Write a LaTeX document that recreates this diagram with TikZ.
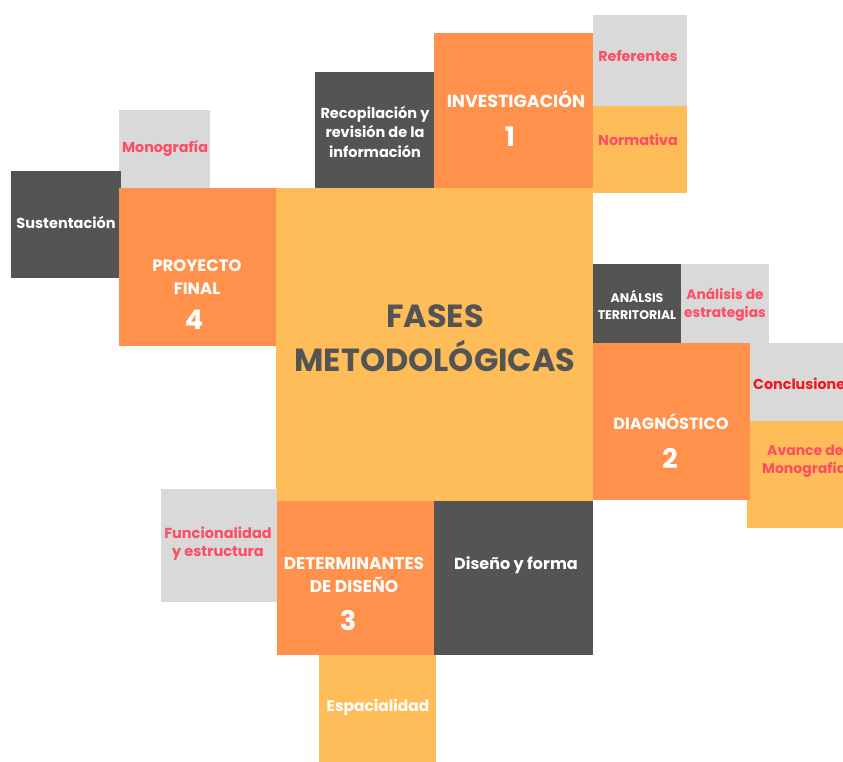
\documentclass[tikz,border=0pt]{standalone}
\usepackage{fontspec}
\setmainfont{Poppins}
\definecolor{corange}{HTML}{FF914D}
\definecolor{cyellow}{HTML}{FFBD59}
\definecolor{cdark}{HTML}{545454}
\definecolor{cgray}{HTML}{D9D9D9}
\definecolor{cpink}{HTML}{FF4C61}
\definecolor{cred}{HTML}{F5161E}
\tikzset{
  blk/.style={draw=none, inner sep=0pt, outer sep=0pt, anchor=north west},
  wtxt/.style={text=white, font=\bfseries\fontsize{14.5}{19.5}\selectfont, align=center, inner sep=0pt},
  ptxt/.style={text=cpink, font=\bfseries\fontsize{14.3}{19}\selectfont, align=center, inner sep=0pt},
  numtxt/.style={text=white, font=\bfseries\fontsize{27}{30}\selectfont, inner sep=0pt},
}
\newcommand{\blk}[6]{\node[blk, fill=#2, minimum width=#5pt, minimum height=#6pt] (#1) at (#3,#4) {};}
\begin{document}
\begin{tikzpicture}[x=1pt,y=-1pt]
\useasboundingbox (0,0) rectangle (843,761);
\clip (0,0) rectangle (843,761);
% boxes
\blk{centre}{cyellow}{276}{188}{317}{313}
\blk{recop}{cdark}{315}{72}{120}{116}
\blk{inv}{corange}{434}{33}{159}{155}
\blk{ref}{cgray}{593}{15}{94}{91}
\blk{norm}{cyellow}{593}{106}{94}{87}
\blk{mono}{cgray}{119}{110}{91}{78}
\blk{sust}{cdark}{11}{171}{110}{107}
\blk{proy}{corange}{119}{188}{157}{158}
\blk{anter}{cdark}{593}{264}{88}{79}
\blk{aest}{cgray}{681}{264}{88}{79}
\blk{concl}{cgray}{750}{343}{100}{78}
\blk{avance}{cyellow}{747}{421}{100}{107}
\blk{diag}{corange}{593}{343}{157}{157}
\blk{func}{cgray}{161}{489}{116}{113}
\blk{det}{corange}{277}{501}{157}{154}
\blk{disf}{cdark}{434}{501}{159}{154}
\blk{espa}{cyellow}{319}{655}{117}{110}
% texts
\node[text=cdark, font=\bfseries\fontsize{32}{44}\selectfont, align=center, inner sep=0pt] (tcentre) at (435,338) {FASES\\METODOLÓGICAS};
\node[wtxt] (trecop) at (375,132) {Recopilación y\\revisión de la\\información};
\node[wtxt, font=\bfseries\fontsize{17.5}{19}\selectfont] (tinv) at (516,99) {INVESTIGACIÓN};
\node[numtxt] (ninv) at (510,137) {1};
\node[ptxt] (tref) at (638,56) {Referentes};
\node[ptxt] (tnorm) at (638,140) {Normativa};
\node[ptxt] (tmono) at (165,149) {Monografía};
\node[wtxt] (tsust) at (66,223) {Sustentación};
\node[wtxt, font=\bfseries\fontsize{16.5}{23}\selectfont] (tproy) at (197,277) {PROYECTO\\FINAL};
\node[numtxt] (nproy) at (194,320) {4};
\node[wtxt, font=\bfseries\fontsize{12.5}{17}\selectfont] (tanter) at (637,305) {ANÁLSIS\\TERRITORIAL};
\node[ptxt, font=\bfseries\fontsize{13.8}{18}\selectfont] (taest) at (725,305) {Análisis de\\estrategias};
\node[ptxt, text=cred, anchor=west] (tconcl) at (753,384) {Conclusiones};
\node[ptxt, font=\bfseries\fontsize{14}{18}\selectfont, anchor=west, align=left] (tavance) at (762,461) {\hspace*{5pt}Avance de\\Monografía};
\node[wtxt, font=\bfseries\fontsize{16.2}{19}\selectfont] (tdiag) at (671,422) {DIAGNÓSTICO};
\node[numtxt] (ndiag) at (670,458) {2};
\node[ptxt, font=\bfseries\fontsize{14.5}{18}\selectfont] (tfunc) at (218,544) {Funcionalidad\\y estructura};
\node[wtxt, font=\bfseries\fontsize{17}{23}\selectfont] (tdet) at (354,575) {DETERMINANTES\\DE DISEÑO};
\node[numtxt] (ndet) at (348,620) {3};
\node[wtxt, font=\bfseries\fontsize{16}{19}\selectfont] (tdisf) at (516,565) {Diseño y forma};
\node[wtxt, font=\bfseries\fontsize{15.4}{19}\selectfont] (tespa) at (378,707) {Espacialidad};
\end{tikzpicture}
\end{document}
